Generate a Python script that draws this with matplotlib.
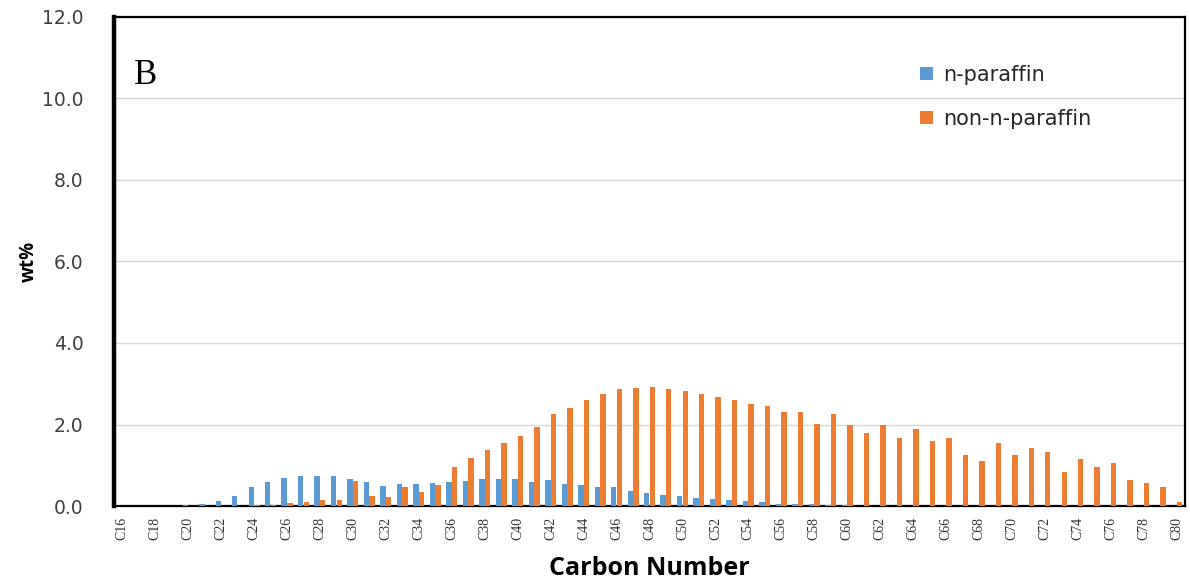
import numpy as np
import matplotlib.pyplot as plt

# carbon numbers C16..C80
carbon = [f'C{n}' for n in range(16, 81)]

n_paraffin = [
    0.00, 0.01, 0.01, 0.01, 0.02, 0.04, 0.12, 0.25, 0.46, 0.60,   # C16-C25
    0.70, 0.74, 0.74, 0.74, 0.67, 0.60, 0.49, 0.55, 0.53, 0.56,   # C26-C35
    0.59, 0.62, 0.66, 0.66, 0.66, 0.58, 0.64, 0.53, 0.52, 0.47,   # C36-C45
    0.47, 0.37, 0.33, 0.27, 0.25, 0.19, 0.18, 0.15, 0.13, 0.09,   # C46-C55
    0.06, 0.05, 0.04, 0.03, 0.02, 0.01, 0.01, 0.01, 0.01, 0.01,   # C56-C65
    0.00, 0.00, 0.00, 0.00, 0.00, 0.00, 0.00, 0.00, 0.00, 0.00,   # C66-C75
    0.00, 0.00, 0.00, 0.00, 0.00,                                 # C76-C80
]
non_n_paraffin = [
    0.00, 0.00, 0.00, 0.00, 0.00, 0.00, 0.01, 0.01, 0.02, 0.03,   # C16-C25
    0.08, 0.10, 0.15, 0.15, 0.61, 0.25, 0.23, 0.46, 0.35, 0.51,   # C26-C35
    0.95, 1.17, 1.37, 1.55, 1.71, 1.93, 2.25, 2.41, 2.59, 2.74,   # C36-C45
    2.87, 2.90, 2.92, 2.87, 2.82, 2.76, 2.68, 2.60, 2.50, 2.46,   # C46-C55
    2.31, 2.31, 2.02, 2.27, 2.00, 1.78, 1.99, 1.66, 1.88, 1.59,   # C56-C65
    1.66, 1.26, 1.11, 1.54, 1.25, 1.42, 1.32, 0.83, 1.16, 0.96,   # C66-C75
    1.05, 0.65, 0.56, 0.46, 0.10,                                 # C76-C80
]

y_ticks = [0, 2, 4, 6, 8, 10, 12]

plt.rcParams['font.family'] = ['Open Sans', 'DejaVu Sans']

fig = plt.figure(figsize=(11.9, 5.83), dpi=100)
ax = fig.add_axes([0.0958, 0.132, 0.90, 0.839])

x = np.arange(len(carbon))
w = 0.33
ax.bar(x - 0.17, n_paraffin, width=w, color='#5B9BD5', label='n-paraffin', zorder=3)
ax.bar(x + 0.17, non_n_paraffin, width=w, color='#ED7D31', label='non-n-paraffin', zorder=3)

ax.set_xlim(-0.5, len(carbon) - 0.5)
ax.set_ylim(0, 12)
ax.set_yticks(y_ticks, labels=[f'{v:.1f}' for v in y_ticks])
ax.set_xticks(x[::2], labels=carbon[::2], rotation=90)
ax.yaxis.grid(True, color='#d9d9d9', linewidth=1, zorder=0)
ax.set_axisbelow(True)

ax.tick_params(axis='x', length=0, pad=8, labelsize=10, labelcolor='#333333')
ax.tick_params(axis='y', length=0, pad=22, labelsize=13.5, labelcolor='#404040')
for lbl in ax.get_xticklabels():
    lbl.set_fontfamily('Liberation Serif')
for lbl in ax.get_yticklabels():
    lbl.set_fontfamily('DejaVu Sans')

for side in ['top', 'right', 'bottom']:
    ax.spines[side].set_color('black')
    ax.spines[side].set_linewidth(1.6)
ax.spines['left'].set_color('black')
ax.spines['left'].set_linewidth(3.2)

ax.set_ylabel('wt%', fontsize=13.5, fontweight='bold', labelpad=2)
ax.set_xlabel('Carbon Number', fontsize=18, fontweight='bold', labelpad=11)

ax.text(0.019, 0.88, 'B', transform=ax.transAxes, fontsize=25,
        family='Liberation Serif', va='center', ha='left')

ax.legend(loc='upper left', bbox_to_anchor=(0.7526, 0.902), frameon=False,
          borderpad=0, borderaxespad=0,
          handlelength=0.6, handleheight=0.6, labelspacing=1.15,
          handletextpad=0.5, labelcolor='#262626',
          prop={'family': 'DejaVu Sans', 'size': 15})

plt.savefig('out.png', dpi=100)
plt.close()
